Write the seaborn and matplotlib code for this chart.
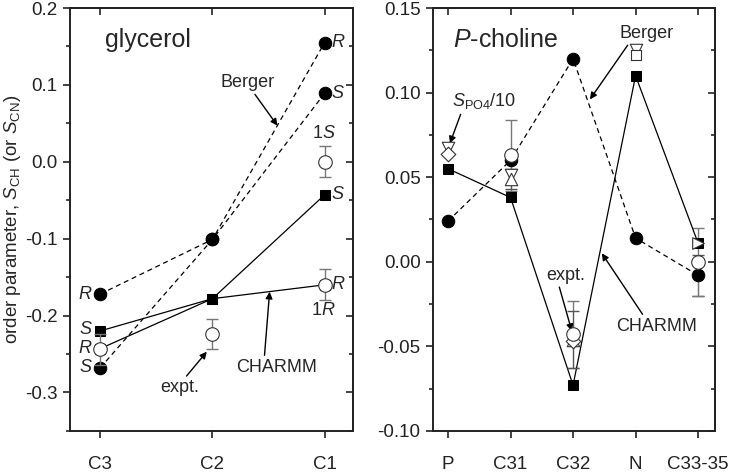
import numpy as np
import pandas as pd
import matplotlib
matplotlib.use('Agg')
import matplotlib.pyplot as plt
import seaborn as sns
from matplotlib.ticker import FormatStrFormatter, MultipleLocator

# glycerol panel (C3, C2, C1)
gly_labels = ['C3', 'C2', 'C1']
gly_pos = [1, 2, 3]
berger_R = [-0.172, -0.101, 0.155]
berger_S = [-0.268, -0.101, 0.089]
charmm_S = [-0.220, -0.178, -0.043]
charmm_R = [-0.243, -0.178, -0.160]
expt_gly_pos = [1, 2, 3, 3]
expt_gly = [-0.244, -0.224, 0.000, -0.160]
expt_gly_err = [0.02, 0.02, 0.02, 0.02]

# P-choline panel
pc_labels = ['P', 'C31', 'C32', 'N', 'C33-35']
pc_pos = [1, 2, 3, 4, 5]
berger_pc = [0.024, 0.060, 0.120, 0.014, -0.008]
berger_pc_err_pos = [5]
berger_pc_err = [0.012]
charmm_pc = [0.055, 0.038, -0.073, 0.110, 0.011]
expt_circ_pos = [2, 3, 5]
expt_circ = [0.063, -0.043, 0.000]
expt_circ_err = [0.021, 0.020, 0.0]
expt_tdown_pos = [1, 2, 4]
expt_tdown = [0.067, 0.051, 0.125]
expt_tup_pos = [2, 3]
expt_tup = [0.049, -0.046]
expt_tup_err = [0.006, 0.017]
expt_diam_pos = [1, 3]
expt_diam = [0.064, -0.047]
expt_sq_pos = [4]
expt_sq = [0.122]
expt_tright_pos = [5]
expt_tright = [0.011]

sns.set_style('ticks')
plt.rcParams['font.family'] = ['Liberation Sans', 'DejaVu Sans']
plt.rcParams['axes.unicode_minus'] = False
plt.rcParams['mathtext.fontset'] = 'custom'
plt.rcParams['mathtext.rm'] = 'Liberation Sans'
plt.rcParams['mathtext.it'] = 'Liberation Sans:italic'

fig = plt.figure(figsize=(7.44, 4.73), dpi=100)
ax1 = fig.add_axes([0.094, 0.089, 0.380, 0.894])
ax2 = fig.add_axes([0.582, 0.089, 0.379, 0.894])

dash = (4, 3)
open_kw = dict(facecolor='white', edgecolor='#333333', linewidth=0.8)
arrow = dict(arrowstyle='-|>', color='k', lw=1, mutation_scale=10, shrinkA=0, shrinkB=0)
fs = 13


def style_axes(ax, ylim, major, minor, fmt, xlim, xlabels, xpos):
    ax.set_xlim(*xlim)
    ax.set_ylim(*ylim)
    ax.set_xticks(xpos)
    ax.set_xticklabels(xlabels)
    ax.yaxis.set_major_locator(MultipleLocator(major))
    ax.yaxis.set_minor_locator(MultipleLocator(minor))
    ax.yaxis.set_major_formatter(FormatStrFormatter(fmt))
    for s in ax.spines.values():
        s.set_visible(True)
        s.set_linewidth(1.4)
        s.set_color('#222222')
    ax.tick_params(axis='both', which='major', direction='out', length=5, width=1.2,
                   labelsize=13.5, colors='#222222', pad=4)
    ax.tick_params(axis='x', pad=13)
    ax.tick_params(axis='y', which='minor', direction='out', length=3, width=1.2)
    sec_y = ax.secondary_yaxis('right')
    sec_y.yaxis.set_major_locator(MultipleLocator(major))
    sec_y.yaxis.set_minor_locator(MultipleLocator(minor))
    sec_y.tick_params(which='major', direction='in', length=5, width=1.2, labelright=False)
    sec_y.tick_params(which='minor', direction='in', length=3, width=1.2)
    sec_y.spines['right'].set_linewidth(1.4)
    sec_x = ax.secondary_xaxis('top')
    sec_x.set_xticks(xpos)
    sec_x.tick_params(direction='in', length=5, width=1.2, labeltop=False)
    sec_x.spines['top'].set_linewidth(1.4)


# ---- glycerol ----
for yv in [berger_R, berger_S]:
    sns.lineplot(x=gly_pos, y=yv, ax=ax1, color='k', lw=0.9, sort=False,
                 estimator=None, marker='o', markersize=9, markeredgecolor='k', zorder=3)
for line in ax1.lines:
    line.set_dashes(dash)
for yv in [charmm_S, charmm_R]:
    sns.lineplot(x=gly_pos, y=yv, ax=ax1, color='k', lw=0.9, sort=False,
                 estimator=None, marker='s', markersize=7.5, markeredgecolor='k', zorder=3)
ax1.errorbar(expt_gly_pos, expt_gly, yerr=expt_gly_err, fmt='none', ecolor='#777777',
             elinewidth=1, capsize=4, zorder=4)
sns.scatterplot(x=expt_gly_pos, y=expt_gly, ax=ax1, marker='o', s=95, zorder=5, **open_kw)

ax1.text(1.04, 0.158, 'glycerol', fontsize=18, va='center', ha='left')
lab_kw = dict(fontsize=fs, style='italic', va='center')
ax1.text(3.06, 0.155, 'R', ha='left', **lab_kw)
ax1.text(3.06, 0.089, 'S', ha='left', **lab_kw)
ax1.text(3.06, -0.043, 'S', ha='left', **lab_kw)
ax1.text(3.06, -0.160, 'R', ha='left', **lab_kw)
ax1.text(0.92, -0.172, 'R', ha='right', **lab_kw)
ax1.text(0.92, -0.218, 'S', ha='right', **lab_kw)
ax1.text(0.92, -0.243, 'R', ha='right', **lab_kw)
ax1.text(0.92, -0.268, 'S', ha='right', **lab_kw)
ax1.text(2.99, 0.037, '1$\\it{S}$', fontsize=fs, ha='center', va='center')
ax1.text(2.99, -0.194, '1$\\it{R}$', fontsize=fs, ha='center', va='center')

ax1.annotate('Berger', xy=(2.58, 0.047), xytext=(2.31, 0.103), fontsize=fs,
             ha='center', va='center', arrowprops=dict(arrow, relpos=(0.6, 0)))
ax1.annotate('expt.', xy=(1.95, -0.247), xytext=(1.71, -0.294), fontsize=fs,
             ha='center', va='center', arrowprops=dict(arrow, relpos=(0.6, 1)))
ax1.annotate('CHARMM', xy=(2.51, -0.169), xytext=(2.57, -0.267), fontsize=fs,
             ha='center', va='center', arrowprops=dict(arrow, relpos=(0.35, 1)))

ax1.set_ylabel('order parameter, $S_{\\rm CH}$ (or $S_{\\rm CN}$)', fontsize=13.5, labelpad=1)
ax1.set_xlabel('')
style_axes(ax1, (-0.35, 0.2), 0.1, 0.05, '%.1f', (0.73, 3.25), gly_labels, gly_pos)

# ---- P-choline ----
sns.lineplot(x=pc_pos, y=berger_pc, ax=ax2, color='k', lw=0.9, sort=False, estimator=None,
             marker='o', markersize=9, markeredgecolor='k', zorder=3)
ax2.lines[-1].set_dashes(dash)
ax2.errorbar(berger_pc_err_pos, [berger_pc[4]], yerr=berger_pc_err, fmt='none',
             ecolor='#555555', elinewidth=0.8, capsize=4, zorder=2)
sns.lineplot(x=pc_pos, y=charmm_pc, ax=ax2, color='k', lw=0.9, sort=False, estimator=None,
             marker='s', markersize=7.5, markeredgecolor='k', zorder=2.5)
ax2.errorbar(expt_circ_pos, expt_circ, yerr=expt_circ_err, fmt='none', ecolor='#777777',
             elinewidth=1, capsize=4, zorder=2)
ax2.errorbar(expt_tup_pos, expt_tup, yerr=expt_tup_err, fmt='none', ecolor='#555555',
             elinewidth=0.8, capsize=4, zorder=4)
ax2.errorbar([5], [0.0], yerr=[0.02], fmt='none', ecolor='#777777', elinewidth=1,
             capsize=4, zorder=2)
sns.scatterplot(x=expt_tdown_pos, y=expt_tdown, ax=ax2, marker='v', s=80, zorder=4, **open_kw)
sns.scatterplot(x=expt_tup_pos, y=expt_tup, ax=ax2, marker='^', s=80, zorder=4, **open_kw)
sns.scatterplot(x=expt_diam_pos, y=expt_diam, ax=ax2, marker='D', s=55, zorder=5, **open_kw)
sns.scatterplot(x=expt_sq_pos, y=expt_sq, ax=ax2, marker='s', s=55, zorder=5, **open_kw)
sns.scatterplot(x=expt_tright_pos, y=expt_tright, ax=ax2, marker='>', s=70, zorder=4, **open_kw)
sns.scatterplot(x=expt_circ_pos, y=expt_circ, ax=ax2, marker='o', s=95, zorder=5, **open_kw)

ax2.text(1.08, 0.131, '$\\it{P}$-choline', fontsize=18, va='center', ha='left')
ax2.annotate('Berger', xy=(3.27, 0.096), xytext=(4.17, 0.135), fontsize=fs,
             ha='center', va='center', arrowprops=dict(arrow, relpos=(0.2, 0)))
ax2.annotate('$\\it{S}_{\\rm PO4}$/10', xy=(1.03, 0.070), xytext=(1.58, 0.095), fontsize=fs,
             ha='center', va='center', arrowprops=dict(arrow, relpos=(0.15, 0)))
ax2.annotate('expt.', xy=(2.98, -0.041), xytext=(2.89, -0.008), fontsize=fs,
             ha='center', va='center', arrowprops=dict(arrow, relpos=(0.3, 0)))
ax2.annotate('CHARMM', xy=(3.46, 0.005), xytext=(4.34, -0.038), fontsize=fs,
             ha='center', va='center', arrowprops=dict(arrow, relpos=(0.35, 1)))
ax2.set_xlabel('')
ax2.set_ylabel('')
style_axes(ax2, (-0.10, 0.15), 0.05, 0.025, '%.2f', (0.76, 5.27), pc_labels, pc_pos)

fig.savefig('out.png', dpi=100)
